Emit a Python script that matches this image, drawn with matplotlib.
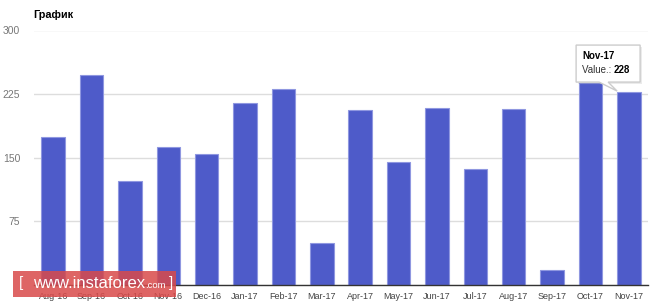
import numpy as np
import matplotlib
matplotlib.use("Agg")
import matplotlib.pyplot as plt
from matplotlib.patches import Rectangle, Polygon
from matplotlib.transforms import IdentityTransform

plt.rcParams['font.family'] = ['Liberation Sans', 'DejaVu Sans']

# данные
months = ["Aug-16", "Sep-16", "Oct-16", "Nov-16", "Dec-16", "Jan-17", "Feb-17", "Mar-17",
          "Apr-17", "May-17", "Jun-17", "Jul-17", "Aug-17", "Sep-17", "Oct-17", "Nov-17"]
values = [175, 248, 123, 163, 154, 215, 231, 49, 206, 145, 209, 137, 207, 18, 238, 228]
yticks = [0, 75, 150, 225, 300]

W, H = 665, 307
fig = plt.figure(figsize=(W / 100, H / 100), dpi=100)
ax = fig.add_axes([34 / W, 1 - 285 / H, (648 - 34) / W, (285 - 30.5) / H])

x = np.arange(len(months))
ax.bar(x, values, width=0.61, color="#4e5bc9", edgecolor="#8f97e0", linewidth=0.8, zorder=3)

ax.set_xlim(-0.5, len(months) - 0.5)
ax.set_ylim(0, 300)
ax.set_yticks(yticks)
ax.set_yticklabels(["" if t == 0 else str(t) for t in yticks])
ax.set_xticks(x)
ax.set_xticklabels(months)
ax.grid(axis='y', color="#dddddd", lw=1, zorder=0)
ax.tick_params(axis='y', length=0, pad=10, labelsize=7.5, labelcolor="#777777")
ax.tick_params(axis='x', length=0, pad=5, labelsize=6.5, labelcolor="#444444")
for s in ["top", "right", "left"]:
    ax.spines[s].set_visible(False)
ax.spines["bottom"].set_color("#333333")
ax.spines["bottom"].set_linewidth(1)
ax.spines["bottom"].set_zorder(4)

fig.text(33 / W, 1 - 15 / H, "График", fontsize=7.8, fontweight="bold", color="black", va="center")

# подсказка (tooltip) над последним столбиком
tx, ty = ax.transData.transform((len(months) - 1 - 0.305, values[-1]))
ty = ty + 0.5
bx0, bx1 = tx - 41, tx + 23
by1 = ty + 9
by0 = by1 + 37
tip = Polygon([(bx0, by1), (tx - 18, by1), (tx, ty), (tx - 9, by1), (bx1, by1),
               (bx1, by0), (bx0, by0)], closed=True, transform=IdentityTransform(),
              facecolor="white", edgecolor="#cccccc", lw=1, zorder=10)
shadow = Polygon([(bx0 + 2, by1 - 2), (bx1 + 2, by1 - 2), (bx1 + 2, by0 - 2), (bx0 + 2, by0 - 2)],
                 closed=True, transform=IdentityTransform(), facecolor="#000000", alpha=0.08,
                 lw=0, zorder=9)
fig.add_artist(shadow)
fig.add_artist(tip)
fig.text((bx0 + 6) / W, (by0 - 11) / H, months[-1], fontsize=7, fontweight="bold", va="center", zorder=11)
t1 = fig.text((bx0 + 6) / W, (by0 - 25) / H, "Value.: ", fontsize=7, color="#333333", va="center", zorder=11)
fig.canvas.draw()
bb = t1.get_window_extent()
fig.text(bb.x1 / W, (by0 - 25) / H, str(values[-1]), fontsize=7, fontweight="bold", va="center", zorder=11)

# водяной знак
fig.add_artist(Rectangle((12.7 / W, 1 - 297.3 / H), (176 - 12.7) / W, (297.3 - 270.7) / H,
                         transform=fig.transFigure, facecolor="#d94a4a", alpha=0.85, lw=0, zorder=20))
fig.text(19 / W, 1 - 283.5 / H, "[", fontsize=11, color="white", va="center", zorder=21)
w1 = fig.text(33 / W, 1 - 283.5 / H, "www.instaforex", fontsize=12, color="white", va="center", zorder=21)
fig.canvas.draw()
b1 = w1.get_window_extent()
w2 = fig.text(b1.x1 / W, 1 - 285 / H, ".com", fontsize=6.8, color="white", va="center", zorder=21)
fig.canvas.draw()
b2 = w2.get_window_extent()
fig.text((b2.x1 + 3) / W, 1 - 283.5 / H, "]", fontsize=11, color="white", va="center", zorder=21)

fig.savefig("out.png", dpi=100)
